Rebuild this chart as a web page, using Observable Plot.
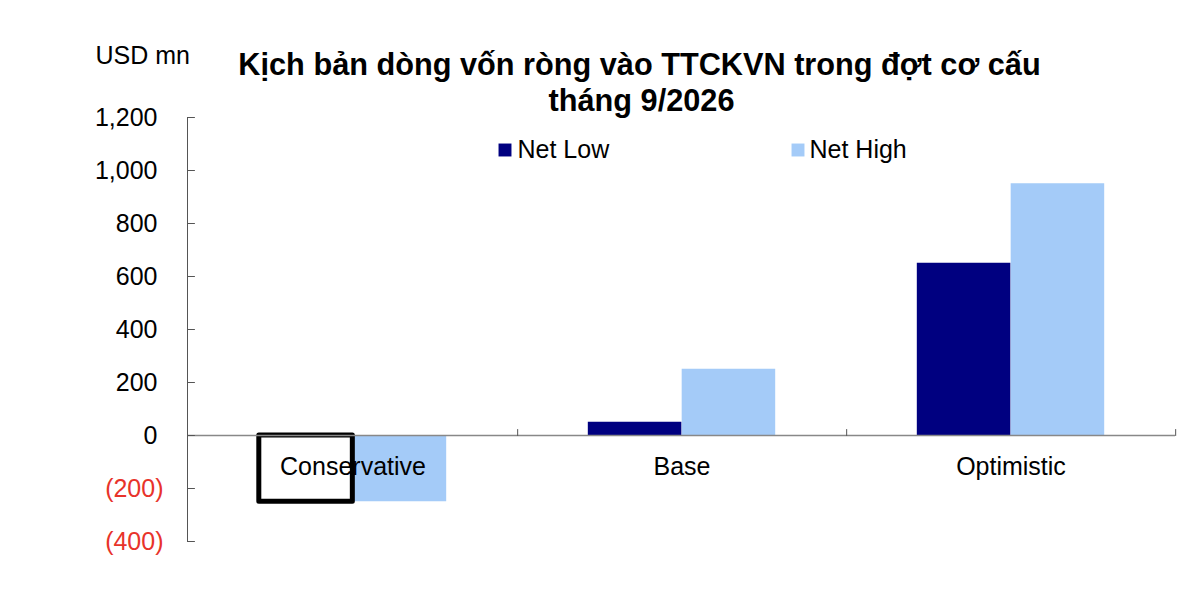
<!DOCTYPE html>
<html><head><meta charset="utf-8">
<script src="https://cdn.jsdelivr.net/npm/d3@7"></script>
<script src="https://cdn.jsdelivr.net/npm/@observablehq/plot@0.6"></script>
<style>
body{margin:0;background:#fff;font-family:"Liberation Sans",Arial,sans-serif}
#chart svg{display:block}
</style>
</head><body><div id="chart"></div>
<script>
const categories = ["Conservative", "Base", "Optimistic"];
const series = ["Net Low", "Net High"];
const netLow = [-250, 50, 650];
const netHigh = [-250, 250, 950];
const yTicks = [-400, -200, 0, 200, 400, 600, 800, 1000, 1200];
const titleLines = ["Kịch bản dòng vốn ròng vào TTCKVN trong đợt cơ cấu", "tháng 9/2026"];
const unitLabel = "USD mn";
const seriesColors = ["#000080", "#a4cbf8"];

const data = categories.flatMap((c, i) => [
  {category: c, series: series[0], value: netLow[i]},
  {category: c, series: series[1], value: netHigh[i]}
]);

const W = 1200, H = 606, mL = 187, mR = 25, mT = 117, mB = 65;
const band = (W - mL - mR) / categories.length;
const gap = band * 0.215, barW = band * 0.285;
const fmt = v => v < 0 ? `(${d3.format(",")(-v)})` : d3.format(",")(v);
const FS = 25;
const tickShape = {draw(ctx, l) { ctx.moveTo(0, 0); ctx.lineTo(0, -l); }};

const lowInsets = {insetLeft: gap, insetRight: band - gap - barW};
const highInsets = {insetLeft: gap + barW, insetRight: gap};

const chart = Plot.plot({
  width: W, height: H,
  marginLeft: mL, marginRight: mR, marginTop: mT, marginBottom: mB,
  style: {fontFamily: '"Liberation Sans", Arial, sans-serif', background: "#fff", overflow: "visible"},
  x: {domain: categories, padding: 0, axis: null},
  y: {domain: [-400, 1200], axis: null},
  marks: [
    Plot.barY(data.filter(d => d.series === series[1]), {x: "category", y: "value", fill: seriesColors[1], ...highInsets}),
    Plot.barY(data.filter(d => d.series === series[0] && d.value >= 0), {x: "category", y: "value", fill: seriesColors[0], ...lowInsets}),
    Plot.barY(data.filter(d => d.series === series[0] && d.value < 0), {x: "category", y: "value", fill: "white", stroke: "black", strokeWidth: 5, strokeLinejoin: "round", ...lowInsets}),
    Plot.ruleY([0], {stroke: "#888", strokeWidth: 1.5}),
    Plot.vector(categories, {x: d => d, y: 0, dx: band / 2, length: 6, rotate: 0, anchor: "start", shape: tickShape, stroke: "#555", strokeWidth: 1}),
    Plot.frame({anchor: "left", stroke: "#555", strokeWidth: 1}),
    Plot.vector(yTicks, {y: d => d, frameAnchor: "left", length: 7, rotate: 90, anchor: "start", shape: tickShape, stroke: "#555", strokeWidth: 1}),
    Plot.axisY(yTicks.filter(v => v >= 0), {tickSize: 0, tickPadding: 30, tickFormat: fmt, fontSize: FS, fill: "#000", label: null}),
    Plot.axisY(yTicks.filter(v => v < 0), {tickSize: 0, tickPadding: 24, tickFormat: fmt, fontSize: FS, fill: "#e8332a", label: null}),
    Plot.text(categories, {x: d => d, y: 0, dy: 31, text: d => d, fontSize: FS, fill: "#000"}),
    Plot.text([unitLabel], {frameAnchor: "top-left", dx: 95 - mL, dy: 55.5 - mT, textAnchor: "start", lineAnchor: "middle", fontSize: FS, fill: "#000"}),
    Plot.text([titleLines[0]], {frameAnchor: "top-left", dx: 639 - mL, dy: 64.5 - mT, textAnchor: "middle", lineAnchor: "middle", fontSize: 30.7, fontWeight: "bold", fill: "#000"}),
    Plot.text([titleLines[1]], {frameAnchor: "top-left", dx: 641 - mL, dy: 101 - mT, textAnchor: "middle", lineAnchor: "middle", fontSize: 30.7, fontWeight: "bold", fill: "#000"}),
    Plot.dot([series[0]], {frameAnchor: "top-left", dx: 504.5 - mL, dy: 149.5 - mT, symbol: "square", r: 7.3, fill: seriesColors[0], stroke: null}),
    Plot.text([series[0]], {frameAnchor: "top-left", dx: 517 - mL, dy: 149 - mT, textAnchor: "start", lineAnchor: "middle", fontSize: FS, fill: "#000"}),
    Plot.dot([series[1]], {frameAnchor: "top-left", dx: 797.5 - mL, dy: 149.5 - mT, symbol: "square", r: 7.3, fill: seriesColors[1], stroke: null}),
    Plot.text([series[1]], {frameAnchor: "top-left", dx: 809 - mL, dy: 149 - mT, textAnchor: "start", lineAnchor: "middle", fontSize: FS, fill: "#000"})
  ]
});
document.getElementById("chart").append(chart);
</script>
</body></html>
